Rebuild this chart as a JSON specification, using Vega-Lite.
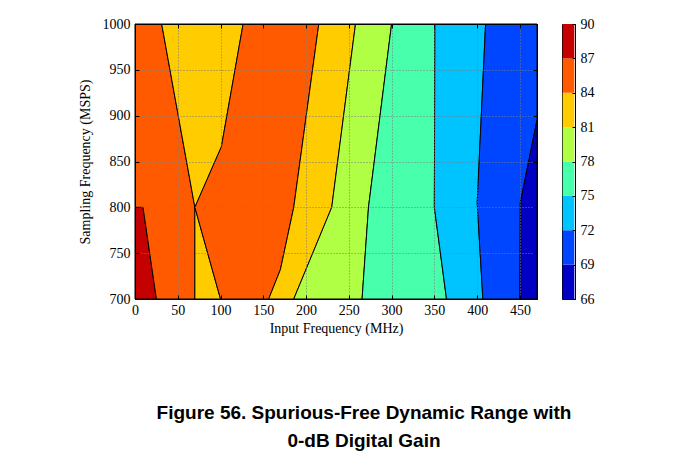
{
  "$schema": "https://vega.github.io/schema/vega-lite/v6.json",
  "background": "white",
  "padding": {"left": 77, "top": 16, "right": 10, "bottom": 10},
  "config": {
    "view": {"stroke": "black", "strokeWidth": 1},
    "axis": {"labelFont": "Liberation Serif", "titleFont": "Liberation Serif", "labelColor": "black", "titleColor": "black", "domainColor": "black", "tickColor": "black", "labelFontSize": 14, "titleFontSize": 14, "titleFontWeight": "normal"}
  },
  "datasets": {
    "polys": [
      {"poly": "p01", "level": "87", "i": 1, "x": 0, "y": 800},
      {"poly": "p01", "level": "87", "i": 2, "x": 9.4, "y": 800},
      {"poly": "p01", "level": "87", "i": 3, "x": 25, "y": 700},
      {"poly": "p01", "level": "87", "i": 4, "x": 0, "y": 700},
      {"poly": "p01", "level": "87", "i": 5, "x": 0, "y": 800},
      {"poly": "p02", "level": "84", "i": 1, "x": 0, "y": 1000},
      {"poly": "p02", "level": "84", "i": 2, "x": 31.2, "y": 1000},
      {"poly": "p02", "level": "84", "i": 3, "x": 70, "y": 800},
      {"poly": "p02", "level": "84", "i": 4, "x": 70, "y": 700},
      {"poly": "p02", "level": "84", "i": 5, "x": 25, "y": 700},
      {"poly": "p02", "level": "84", "i": 6, "x": 9.4, "y": 800},
      {"poly": "p02", "level": "84", "i": 7, "x": 0, "y": 800},
      {"poly": "p02", "level": "84", "i": 8, "x": 0, "y": 1000},
      {"poly": "p03", "level": "81", "i": 1, "x": 31.2, "y": 1000},
      {"poly": "p03", "level": "81", "i": 2, "x": 126.4, "y": 1000},
      {"poly": "p03", "level": "81", "i": 3, "x": 101, "y": 866},
      {"poly": "p03", "level": "81", "i": 4, "x": 70, "y": 800},
      {"poly": "p03", "level": "81", "i": 5, "x": 31.2, "y": 1000},
      {"poly": "p04", "level": "81", "i": 1, "x": 70, "y": 800},
      {"poly": "p04", "level": "81", "i": 2, "x": 100, "y": 700},
      {"poly": "p04", "level": "81", "i": 3, "x": 70, "y": 700},
      {"poly": "p04", "level": "81", "i": 4, "x": 70, "y": 800},
      {"poly": "p05", "level": "84", "i": 1, "x": 126.4, "y": 1000},
      {"poly": "p05", "level": "84", "i": 2, "x": 214.9, "y": 1000},
      {"poly": "p05", "level": "84", "i": 3, "x": 185.6, "y": 800},
      {"poly": "p05", "level": "84", "i": 4, "x": 170, "y": 732},
      {"poly": "p05", "level": "84", "i": 5, "x": 156.3, "y": 700},
      {"poly": "p05", "level": "84", "i": 6, "x": 100, "y": 700},
      {"poly": "p05", "level": "84", "i": 7, "x": 70, "y": 800},
      {"poly": "p05", "level": "84", "i": 8, "x": 101, "y": 866},
      {"poly": "p05", "level": "84", "i": 9, "x": 126.4, "y": 1000},
      {"poly": "p06", "level": "81", "i": 1, "x": 214.9, "y": 1000},
      {"poly": "p06", "level": "81", "i": 2, "x": 257.8, "y": 1000},
      {"poly": "p06", "level": "81", "i": 3, "x": 230, "y": 800},
      {"poly": "p06", "level": "81", "i": 4, "x": 185.6, "y": 700},
      {"poly": "p06", "level": "81", "i": 5, "x": 156.3, "y": 700},
      {"poly": "p06", "level": "81", "i": 6, "x": 170, "y": 732},
      {"poly": "p06", "level": "81", "i": 7, "x": 185.6, "y": 800},
      {"poly": "p06", "level": "81", "i": 8, "x": 214.9, "y": 1000},
      {"poly": "p07", "level": "78", "i": 1, "x": 257.8, "y": 1000},
      {"poly": "p07", "level": "78", "i": 2, "x": 300, "y": 1000},
      {"poly": "p07", "level": "78", "i": 3, "x": 273, "y": 800},
      {"poly": "p07", "level": "78", "i": 4, "x": 265.5, "y": 700},
      {"poly": "p07", "level": "78", "i": 5, "x": 185.6, "y": 700},
      {"poly": "p07", "level": "78", "i": 6, "x": 230, "y": 800},
      {"poly": "p07", "level": "78", "i": 7, "x": 257.8, "y": 1000},
      {"poly": "p08", "level": "75", "i": 1, "x": 300, "y": 1000},
      {"poly": "p08", "level": "75", "i": 2, "x": 350.6, "y": 1000},
      {"poly": "p08", "level": "75", "i": 3, "x": 350, "y": 800},
      {"poly": "p08", "level": "75", "i": 4, "x": 364.2, "y": 700},
      {"poly": "p08", "level": "75", "i": 5, "x": 265.5, "y": 700},
      {"poly": "p08", "level": "75", "i": 6, "x": 273, "y": 800},
      {"poly": "p08", "level": "75", "i": 7, "x": 300, "y": 1000},
      {"poly": "p09", "level": "72", "i": 1, "x": 350.6, "y": 1000},
      {"poly": "p09", "level": "72", "i": 2, "x": 409.9, "y": 1000},
      {"poly": "p09", "level": "72", "i": 3, "x": 400.1, "y": 805},
      {"poly": "p09", "level": "72", "i": 4, "x": 406.7, "y": 700},
      {"poly": "p09", "level": "72", "i": 5, "x": 364.2, "y": 700},
      {"poly": "p09", "level": "72", "i": 6, "x": 350, "y": 800},
      {"poly": "p09", "level": "72", "i": 7, "x": 350.6, "y": 1000},
      {"poly": "p10", "level": "69", "i": 1, "x": 409.9, "y": 1000},
      {"poly": "p10", "level": "69", "i": 2, "x": 470, "y": 1000},
      {"poly": "p10", "level": "69", "i": 3, "x": 470, "y": 895},
      {"poly": "p10", "level": "69", "i": 4, "x": 450.5, "y": 805},
      {"poly": "p10", "level": "69", "i": 5, "x": 450, "y": 700},
      {"poly": "p10", "level": "69", "i": 6, "x": 406.7, "y": 700},
      {"poly": "p10", "level": "69", "i": 7, "x": 400.1, "y": 805},
      {"poly": "p10", "level": "69", "i": 8, "x": 409.9, "y": 1000},
      {"poly": "p11", "level": "66", "i": 1, "x": 470, "y": 895},
      {"poly": "p11", "level": "66", "i": 2, "x": 470, "y": 700},
      {"poly": "p11", "level": "66", "i": 3, "x": 450, "y": 700},
      {"poly": "p11", "level": "66", "i": 4, "x": 450.5, "y": 805},
      {"poly": "p11", "level": "66", "i": 5, "x": 470, "y": 895}
    ],
    "bar": [
      {"level": "66", "lo": 66, "hi": 69},
      {"level": "69", "lo": 69, "hi": 72},
      {"level": "72", "lo": 72, "hi": 75},
      {"level": "75", "lo": 75, "hi": 78},
      {"level": "78", "lo": 78, "hi": 81},
      {"level": "81", "lo": 81, "hi": 84},
      {"level": "84", "lo": 84, "hi": 87},
      {"level": "87", "lo": 87, "hi": 90}
    ]
  },
  "title": {
    "text": ["Figure 56. Spurious-Free Dynamic Range with", "0-dB Digital Gain"],
    "orient": "bottom",
    "anchor": "middle",
    "font": "Liberation Sans",
    "fontSize": 19,
    "fontWeight": "bold",
    "color": "black",
    "offset": 68,
    "lineHeight": 28,
    "dx": 28
  },
  "hconcat": [
    {
      "width": 402,
      "height": 275,
      "data": {"name": "polys"},
      "layer": [
        {
          "mark": {"type": "line", "stroke": "black", "strokeWidth": 1},
          "encoding": {
            "x": {"field": "x", "type": "quantitative", "scale": {"domain": [0, 470], "nice": false, "zero": false},
              "axis": {"orient": "bottom", "values": [0, 50, 100, 150, 200, 250, 300, 350, 400, 450], "format": "d", "tickSize": -4, "labelPadding": 8, "grid": true, "gridDash": [1, 2], "gridColor": "#7a7a7a", "gridOpacity": 1, "zindex": 1, "title": "Input Frequency (MHz)", "titlePadding": 4, "labelFlush": false}},
            "y": {"field": "y", "type": "quantitative", "scale": {"domain": [700, 1000], "nice": false, "zero": false},
              "axis": {"orient": "left", "values": [700, 750, 800, 850, 900, 950, 1000], "format": "d", "tickSize": -4, "labelPadding": 9, "grid": true, "gridDash": [1, 2], "gridColor": "#7a7a7a", "gridOpacity": 1, "zindex": 1, "title": "Sampling Frequency (MSPS)", "titlePadding": 10, "labelFlush": false}},
            "detail": {"field": "poly", "type": "nominal"},
            "order": {"field": "i", "type": "quantitative"},
            "fill": {"field": "level", "type": "nominal",
              "scale": {"domain": ["66", "69", "72", "75", "78", "81", "84", "87"], "range": ["#0000C4", "#0045FF", "#00C4FF", "#48FFAC", "#B0FF45", "#FFCC00", "#FF5A00", "#C40000"]},
              "legend": null}
          }
        },
        {
          "mark": {"type": "line", "strokeOpacity": 0},
          "encoding": {
            "x": {"field": "x", "type": "quantitative", "axis": {"orient": "top", "values": [0, 50, 100, 150, 200, 250, 300, 350, 400, 450], "tickSize": -4, "labels": false, "grid": false, "title": null, "zindex": 1}},
            "y": {"field": "y", "type": "quantitative", "axis": {"orient": "right", "values": [700, 750, 800, 850, 900, 950, 1000], "tickSize": -4, "labels": false, "grid": false, "title": null, "zindex": 1}},
            "detail": {"field": "poly", "type": "nominal"},
            "order": {"field": "i", "type": "quantitative"}
          }
        }
      ],
      "resolve": {"axis": {"x": "independent", "y": "independent"}}
    },
    {
      "width": 13,
      "height": 275,
      "data": {"name": "bar"},
      "mark": {"type": "bar"},
      "encoding": {
        "y": {"field": "lo", "type": "quantitative", "scale": {"domain": [66, 90], "nice": false, "zero": false},
          "axis": {"orient": "right", "values": [66, 69, 72, 75, 78, 81, 84, 87, 90], "tickSize": -3, "labelPadding": 8, "grid": false, "title": null, "domain": true, "zindex": 1, "labelFlush": false}},
        "y2": {"field": "hi"},
        "fill": {"field": "level", "type": "nominal",
          "scale": {"domain": ["66", "69", "72", "75", "78", "81", "84", "87"], "range": ["#0000C4", "#0045FF", "#00C4FF", "#48FFAC", "#B0FF45", "#FFCC00", "#FF5A00", "#C40000"]},
          "legend": null}
      }
    }
  ],
  "spacing": 21
}
